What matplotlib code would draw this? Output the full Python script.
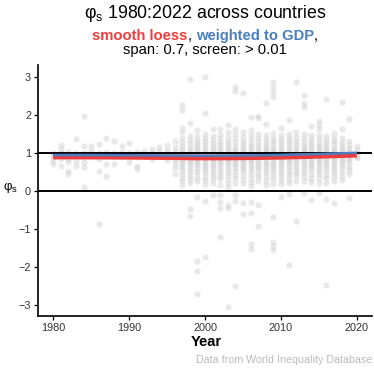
import numpy as np
import matplotlib
matplotlib.use("Agg")
import matplotlib.pyplot as plt

plt.rcParams['font.family'] = ['Liberation Sans', 'DejaVu Sans']
plt.rcParams['mathtext.fontset'] = 'custom'
plt.rcParams['mathtext.rm'] = 'Liberation Sans'
plt.rcParams['mathtext.it'] = 'Liberation Sans'

# per-country phi_s values, grouped by year
years = list(range(1980, 2021))
phi_by_year = [
    [1.0, 0.95, 0.79, 0.71, 0.88],
    [1.2, 1.1, 1.0, 0.92, 0.66, 0.85],
    [1.02, 0.94, 0.75, 0.53, 0.45, 0.85],
    [1.36, 1.0, 0.79, 0.66, 0.92],
    [1.96, 1.18, 1.0, 0.75, 0.64, 0.11, 0.9],
    [1.18, 1.05, 0.96, 0.88],
    [1.24, 1.0, 0.84, 0.53, -0.86],
    [1.4, 1.02, 0.71, 0.4, 0.92],
    [1.31, 1.0, 0.7, 0.9],
    [1.18, 1.02, 0.89],
    [1.25, 1.0, 0.75, 0.92],
    [1.02, 0.66, 0.57, 0.9],
    [1.05, 0.95],
    [1.11, 1.0, 0.92, 0.84],
    [1.16, 1.04, 0.95, 0.89],
    [1.2, 1.08, 1.0, 0.9, 0.8],
    [1.3, 1.15, 1.05, 0.98, 0.9, 0.8, 0.7, 0.6, 0.45],
    [2.25, 2.12, 1.65, 1.55, 1.38, 1.28, 1.18, 1.1, 1.03, 0.97, 0.9, 0.84, 0.77,
     0.7, 0.62, 0.55, 0.45, 0.35, 0.25, 0.15],
    [2.94, 1.78, 1.45, 1.35, 1.25, 1.15, 1.08, 1.02, 0.96, 0.9, 0.85, 0.78, 0.72,
     0.65, 0.58, 0.5, 0.4, 0.3, 0.2, -0.48, -0.67],
    [1.6, 1.45, 1.35, 1.27, 1.2, 1.13, 1.07, 1.01, 0.95, 0.9, 0.85, 0.79, 0.73,
     0.67, 0.6, 0.52, 0.44, 0.35, 0.25, -0.15, -1.85, -2.11, -2.7],
    [3.0, 2.04, 1.5, 1.4, 1.3, 1.22, 1.15, 1.08, 1.02, 0.97, 0.92, 0.86, 0.8,
     0.74, 0.68, 0.61, 0.54, 0.46, 0.37, 0.28, 0.18, -0.26, -1.74],
    [1.63, 1.45, 1.35, 1.26, 1.18, 1.1, 1.04, 0.98, 0.93, 0.87, 0.81, 0.75, 0.69,
     0.62, 0.55, 0.47, 0.38, 0.3, 0.2, -0.11],
    [1.64, 1.5, 1.38, 1.28, 1.2, 1.12, 1.05, 0.99, 0.93, 0.88, 0.82, 0.76, 0.7,
     0.63, 0.56, 0.48, 0.4, 0.3, 0.15, -0.11, -0.29, -0.45, -1.22],
    [1.73, 1.55, 1.42, 1.32, 1.23, 1.15, 1.08, 1.02, 0.96, 0.9, 0.84, 0.78, 0.72,
     0.65, 0.58, 0.5, 0.41, 0.32, 0.22, 0.1, -0.36, -0.45, -3.06],
    [2.72, 2.63, 1.64, 1.5, 1.38, 1.28, 1.19, 1.11, 1.04, 0.98, 0.92, 0.86, 0.8,
     0.74, 0.67, 0.6, 0.52, 0.43, 0.33, 0.22, -0.1, -0.26, -2.5],
    [2.57, 1.55, 1.42, 1.32, 1.24, 1.16, 1.09, 1.03, 0.97, 0.91, 0.85, 0.79, 0.73,
     0.66, 0.59, 0.51, 0.42, 0.32, 0.2, -0.31, -0.6],
    [1.93, 1.6, 1.47, 1.36, 1.27, 1.19, 1.12, 1.05, 0.99, 0.93, 0.87, 0.81, 0.75,
     0.68, 0.61, 0.53, 0.44, 0.35, 0.24, 0.12, -0.29, -0.57, -1.4, -1.52],
    [1.97, 1.91, 1.5, 1.38, 1.28, 1.2, 1.13, 1.06, 1.0, 0.94, 0.88, 0.82, 0.76,
     0.69, 0.62, 0.54, 0.45, 0.36, 0.25, -0.38, -0.92],
    [2.31, 1.76, 1.48, 1.37, 1.28, 1.2, 1.13, 1.07, 1.01, 0.95, 0.89, 0.83, 0.77,
     0.7, 0.63, 0.55, 0.46, 0.37, 0.26, 0.15],
    [2.85, 2.72, 2.59, 2.46, 1.52, 1.4, 1.3, 1.22, 1.14, 1.07, 1.01, 0.95, 0.89,
     0.83, 0.77, 0.71, 0.64, 0.57, 0.49, 0.4, 0.3, 0.18, -0.69, -1.35, -1.45, -1.56],
    [1.65, 1.48, 1.37, 1.28, 1.2, 1.13, 1.06, 1.0, 0.94, 0.88, 0.82, 0.76, 0.7,
     0.63, 0.56, 0.48, 0.39, 0.29, 0.18, -0.16],
    [1.86, 1.5, 1.39, 1.3, 1.22, 1.15, 1.08, 1.02, 0.96, 0.9, 0.84, 0.78, 0.72,
     0.65, 0.58, 0.5, 0.41, 0.31, 0.2, -0.09, -1.94],
    [2.87, 1.55, 1.42, 1.32, 1.23, 1.15, 1.08, 1.02, 0.96, 0.9, 0.84, 0.78, 0.71,
     0.64, 0.56, 0.48, 0.38, 0.27, -0.79],
    [2.52, 2.31, 2.2, 1.5, 1.38, 1.29, 1.21, 1.14, 1.07, 1.01, 0.95, 0.89, 0.83,
     0.77, 0.7, 0.63, 0.55, 0.46, 0.36, 0.25, -0.05],
    [1.71, 1.48, 1.37, 1.28, 1.2, 1.13, 1.06, 1.0, 0.94, 0.88, 0.82, 0.76, 0.69,
     0.62, 0.54, 0.45, 0.35, 0.24, -0.24],
    [1.84, 1.73, 1.62, 1.47, 1.36, 1.27, 1.19, 1.12, 1.05, 0.99, 0.93, 0.87, 0.81,
     0.75, 0.68, 0.61, 0.53, 0.44, 0.33, 0.2, -0.05],
    [2.41, 1.45, 1.35, 1.26, 1.18, 1.11, 1.04, 0.98, 0.92, 0.86, 0.8, 0.74, 0.67,
     0.6, 0.52, 0.43, 0.33, 0.22, -0.22, -2.48],
    [1.52, 1.4, 1.3, 1.22, 1.14, 1.07, 1.01, 0.95, 0.89, 0.83, 0.77, 0.7, 0.63,
     0.55, 0.46, 0.36, 0.25, -0.32],
    [2.35, 1.62, 1.38, 1.28, 1.2, 1.13, 1.06, 1.0, 0.94, 0.88, 0.82, 0.75, 0.68,
     0.6, 0.5, 0.4, 0.28],
    [1.89, 1.3, 1.2, 1.12, 1.05, 0.99, 0.93, 0.87, 0.8, 0.73, 0.64, 0.55, 0.44, -0.19],
    [1.17, 1.08, 1.0, 0.93, 0.86],
]

# smoothed curves
smooth_years = [1980, 1985, 1990, 1995, 2000, 2005, 2010, 2015, 2020]
loess_phi = [0.90, 0.90, 0.895, 0.885, 0.875, 0.88, 0.895, 0.92, 0.95]
gdp_phi = [0.94, 0.94, 0.935, 0.93, 0.925, 0.93, 0.945, 0.97, 1.0]

RED = '#ee3b3b'
BLUE = '#4a7ebf'

fig = plt.figure(figsize=(3.74, 3.69), dpi=100)
ax = fig.add_axes([38 / 374, 1 - 316 / 369, 334 / 374, 251 / 369])

x = np.concatenate([[y] * len(v) for y, v in zip(years, phi_by_year)])
y = np.concatenate(phi_by_year)
ax.scatter(x, y, s=20, color='#cccccc', alpha=0.42, linewidths=0, zorder=1)

ax.axhline(1, color='black', lw=1.4, zorder=2)
ax.axhline(0, color='black', lw=1.4, zorder=2)
ax.plot(smooth_years, loess_phi, color=RED, lw=4, solid_capstyle='butt', zorder=3)
ax.plot(smooth_years, gdp_phi, color=BLUE, lw=1.8, solid_capstyle='butt', zorder=4)

ax.set_xlim(1978, 2022)
ax.set_ylim(-3.29, 3.31)
ax.set_xticks([1980, 1990, 2000, 2010, 2020])
ax.set_yticks([-3, -2, -1, 0, 1, 2, 3])
ax.set_yticklabels(['\u22123', '\u22122', '\u22121', '0', '1', '2', '3'])
for s in ['top', 'right']:
    ax.spines[s].set_visible(False)
for s in ['left', 'bottom']:
    ax.spines[s].set_linewidth(1.2)
ax.tick_params(length=3, width=0.9, pad=2, labelsize=7.8, labelcolor='#333333')

fig.text(205 / 374, 1 - 13 / 369, r'$\mathrm{\varphi_s}$ 1980:2022 across countries',
         ha='center', va='center', fontsize=12.8)
fig.text(3 / 374, 1 - 188 / 369, r'$\mathrm{\varphi_s}$', ha='left', va='center', fontsize=9.5)
fig.text(206 / 374, 1 - 342 / 369, 'Year', ha='center', va='center',
         fontsize=10.5, fontweight='bold')
fig.text(372 / 374, 1 - 360 / 369, 'Data from World Inequality Database',
         ha='right', va='center', fontsize=7.7, color='#bbbbbb')
fig.text(205 / 374, 1 - 50 / 369, 'span: 0.7, screen: > 0.01', ha='center',
         va='center', fontsize=10.6)

# colored first subtitle line, pieces placed side by side
parts = [('smooth loess', RED, 'bold'), (', ', 'black', 'normal'),
         ('weighted to GDP', BLUE, 'bold'), (',', 'black', 'normal')]
texts = [fig.text(0, 1 - 36 / 369, p, color=c, fontweight=w, fontsize=10.6,
                  ha='left', va='center') for p, c, w in parts]
fig.canvas.draw()
r = fig.canvas.get_renderer()
widths = [t.get_window_extent(r).width for t in texts]
start = 205 - sum(widths) / 2
for t, w in zip(texts, widths):
    t.set_x(start / 374)
    start += w

fig.savefig('out.png', dpi=100)
